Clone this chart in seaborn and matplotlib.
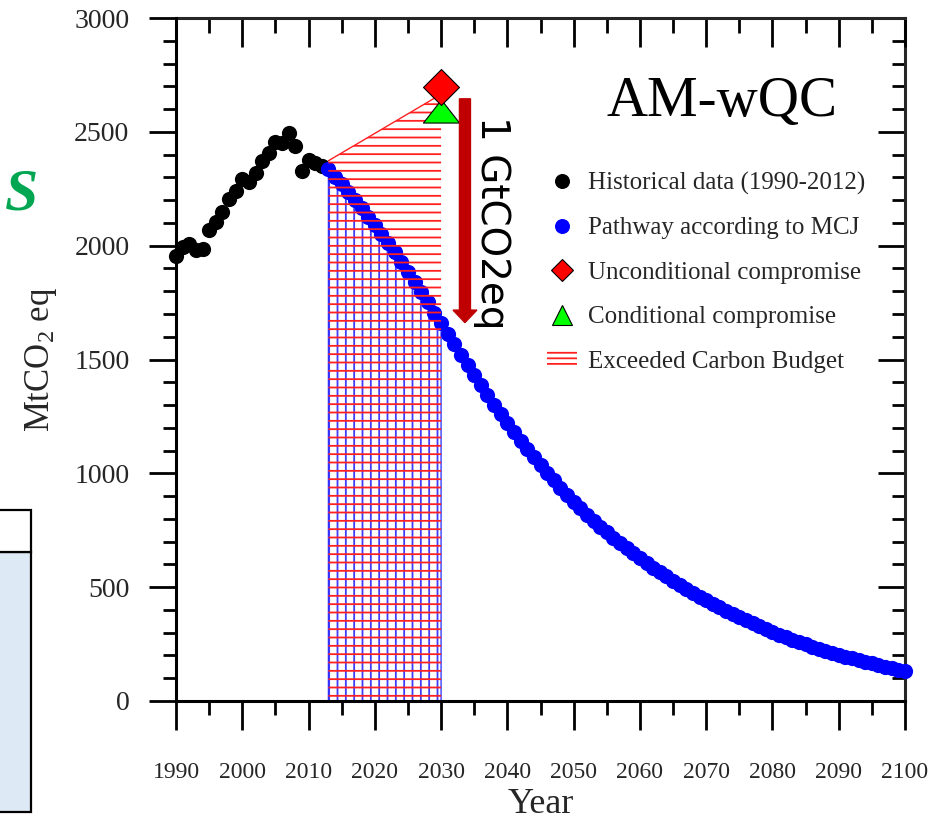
import matplotlib
matplotlib.use("Agg")
import matplotlib.pyplot as plt
import seaborn as sns
import pandas as pd
from matplotlib.ticker import MultipleLocator
from matplotlib.patches import Patch, Rectangle
from matplotlib.lines import Line2D
from matplotlib.markers import MarkerStyle
from matplotlib.path import Path

# ---------------- data ----------------
hist_years = list(range(1990, 2013))
hist_values = [1956, 1993, 2007, 1981, 1985, 2070, 2102, 2150, 2205, 2238,
               2292, 2278, 2317, 2373, 2409, 2457, 2450, 2497, 2439, 2329,
               2376, 2365, 2351]

path_years = list(range(2013, 2101))
path_values = [2335, 2303, 2270, 2236, 2201, 2165, 2128, 2090, 2051, 2011,
               1970, 1928, 1885, 1841, 1796, 1751, 1705, 1659, 1613, 1567,
               1521, 1476, 1431, 1387, 1344, 1302, 1261, 1221, 1182, 1144,
               1107, 1071, 1036, 1002, 969, 937, 906, 876, 847, 819,
               792, 766, 741, 717, 694, 671, 649, 627, 606, 586,
               566, 547, 528, 510, 492, 475, 458, 442, 426, 411,
               396, 382, 368, 354, 341, 328, 316, 304, 292, 281,
               270, 259, 249, 239, 230, 221, 212, 203, 195, 187,
               179, 172, 165, 158, 151, 144, 137, 130]

uncond_year = [2030]
uncond_value = [2697]
cond_year = [2030]
cond_value = [2592]

budget_years = [2013, 2030]
budget_top = [2373, 2665]

arrow_year = 2033.6
arrow_from = 2645
arrow_to = 1662

x_ticks = list(range(1990, 2101, 10))
y_ticks = list(range(0, 3001, 500))

legend_labels = ["Historical data (1990-2012)", "Pathway according to MCJ",
                 "Unconditional compromise", "Conditional compromise",
                 "Exceeded Carbon Budget"]

hist_df = pd.DataFrame({"year": hist_years, "value": hist_values})
path_df = pd.DataFrame({"year": path_years, "value": path_values})

# ---------------- style ----------------
sns.set_style("white")
plt.rcParams["font.family"] = ["Liberation Serif", "DejaVu Serif"]
plt.rcParams["mathtext.fontset"] = "custom"
plt.rcParams["mathtext.rm"] = "Liberation Serif"
plt.rcParams["mathtext.it"] = "Liberation Serif:italic"
plt.rcParams["hatch.linewidth"] = 1.3

fig = plt.figure(figsize=(9.52, 8.24), dpi=100)
ax = fig.add_axes([176 / 952, 1 - 701 / 824, (905 - 176) / 952, (701 - 18) / 824])

# hatched regions
under = path_df[path_df["year"] <= 2030]
ax.fill_between(under["year"], 0, under["value"], facecolor="none",
                edgecolor=(0.1, 0.1, 1.0, 0.85), hatch="||", linewidth=1.0, zorder=1)
ax.fill_between(budget_years, 0, budget_top, facecolor="none", edgecolor="#ff2020",
                hatch="--", linewidth=0, zorder=4)
ax.plot(budget_years, budget_top, color="#ff2020", lw=1.0, zorder=4)

# points
sns.scatterplot(data=hist_df, x="year", y="value", ax=ax, color="black", s=120,
                linewidth=0, clip_on=False, zorder=3, legend=False)
sns.scatterplot(data=path_df, x="year", y="value", ax=ax, color="#0000ff", s=120,
                linewidth=0, clip_on=False, zorder=3, legend=False)
sns.scatterplot(x=uncond_year, y=uncond_value, ax=ax, marker="D", color="#ff0000",
                s=335, edgecolor="black", linewidth=0.8, zorder=6, clip_on=False, legend=False)
tri = MarkerStyle(Path([(0, 0.64), (-1, -0.64), (1, -0.64), (0, 0.64)]))
sns.scatterplot(x=cond_year, y=cond_value, ax=ax, marker=tri, color="#00ff00",
                s=676, edgecolor="black", linewidth=0.8, zorder=5, clip_on=False, legend=False)

# arrow + annotations
ax.arrow(arrow_year, arrow_from, 0, arrow_to - arrow_from, width=1.66,
         head_width=3.6, head_length=55, length_includes_head=True,
         color="#c00000", zorder=5)
ax.text(2037.7, 2100, "1 GtCO2eq", rotation=-90, ha="center", va="center",
        fontsize=28, family="DejaVu Sans", color="black")
ax.text(0.749, 0.877, "AM-wQC", transform=ax.transAxes, ha="center", va="center",
        fontsize=41, color="black")

# axes
ax.set_xlim(1990, 2100)
ax.set_ylim(0, 3000)
ax.set_xticks(x_ticks)
ax.set_yticks(y_ticks)
ax.xaxis.set_minor_locator(MultipleLocator(5))
ax.yaxis.set_minor_locator(MultipleLocator(100))
ax.tick_params(axis="x", which="major", direction="out", length=21, width=2,
               labelsize=17, pad=23, top=False, bottom=True, color="black")
ax.tick_params(axis="x", which="minor", direction="out", length=10, width=2,
               top=False, bottom=True, color="black")
ax.tick_params(axis="y", which="major", direction="out", length=19.5, width=2,
               labelsize=20, pad=14, right=False, left=True, color="black")
ax.tick_params(axis="y", which="minor", direction="out", length=9.5, width=2,
               right=False, left=True, color="black")
for s in ["left", "bottom"]:
    ax.spines[s].set_linewidth(2.2)
    ax.spines[s].set_color("black")
ax.spines["top"].set_visible(False)
ax.spines["right"].set_visible(False)

sec_y = ax.secondary_yaxis("right")
sec_y.set_yticks(y_ticks)
sec_y.yaxis.set_minor_locator(MultipleLocator(100))
sec_y.tick_params(which="major", direction="in", length=19.5, width=2,
                  labelright=False, labelleft=False, right=True, color="black")
sec_y.tick_params(which="minor", direction="in", length=9.5, width=2,
                  right=True, color="black")
sec_y.spines["right"].set_linewidth(2.2)

sec_x = ax.secondary_xaxis("top")
sec_x.set_xticks(x_ticks)
sec_x.xaxis.set_minor_locator(MultipleLocator(5))
sec_x.tick_params(which="major", direction="in", length=21, width=2,
                  labeltop=False, labelbottom=False, top=True, color="black")
sec_x.tick_params(which="minor", direction="in", length=11, width=2,
                  top=True, color="black")
sec_x.spines["top"].set_linewidth(2.2)

ax.set_xlabel("Year", fontsize=26)
ax.xaxis.set_label_coords(0.5, -0.127)
ax.set_ylabel(r"MtCO$_{2}$ eq", fontsize=25)
ax.yaxis.set_label_coords(-0.16, 0.5)

# legend
handles = [
    Line2D([], [], marker="o", ls="none", color="black", markersize=10.8, markeredgewidth=0),
    Line2D([], [], marker="o", ls="none", color="#0000ff", markersize=10.8, markeredgewidth=0),
    Line2D([], [], marker="D", ls="none", markerfacecolor="#ff0000", markeredgecolor="black",
           markeredgewidth=0.8, markersize=11.5),
    Line2D([], [], marker="^", ls="none", markerfacecolor="#00ff00", markeredgecolor="black",
           markeredgewidth=0.8, markersize=15),
    Patch(facecolor="none", edgecolor="#ff2020", hatch="---", linewidth=0),
]
fig.legend(handles, legend_labels, loc="upper left", bbox_to_anchor=(547 / 952, 1 - 172 / 824),
           bbox_transform=fig.transFigure, frameon=False, fontsize=18, borderpad=0,
           borderaxespad=0, handlelength=1.2, handleheight=0.65, handletextpad=0.44,
           labelspacing=0.89)

# fragments of neighbouring panel at the left edge
fig.text(22 / 952, 1 - 195 / 824, "S", fontsize=43, fontweight="bold", fontstyle="italic",
         color="#00a651", ha="center", va="center")
fig.patches.append(Rectangle((-0.01, 1 - 812 / 824), 0.01 + 31 / 952, (812 - 552) / 824,
                             transform=fig.transFigure, facecolor="#dde9f5",
                             edgecolor="black", linewidth=1.6, zorder=0))
fig.patches.append(Rectangle((-0.01, 1 - 552 / 824), 0.01 + 31 / 952, (552 - 510) / 824,
                             transform=fig.transFigure, facecolor="white",
                             edgecolor="black", linewidth=1.6, zorder=0))

fig.savefig("out.png", dpi=100)
